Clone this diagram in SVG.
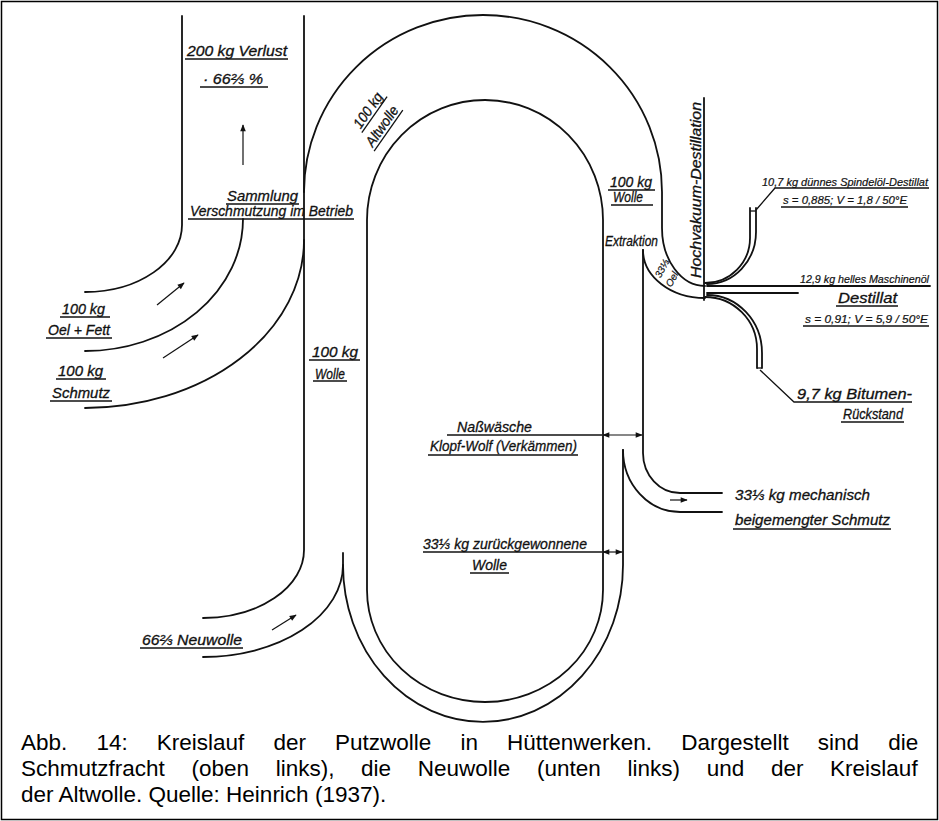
<svg xmlns="http://www.w3.org/2000/svg" width="939" height="821" viewBox="0 0 939 821">
<defs>
<marker id="ah" viewBox="0 0 10 10" refX="9" refY="5" markerWidth="9" markerHeight="7" orient="auto-start-reverse" markerUnits="userSpaceOnUse">
<path d="M0,1 L10,5 L0,9 z" fill="#111"/>
</marker>
</defs>
<style>
.l{fill:none;stroke:#111;stroke-width:1.8;stroke-linecap:round}
.u{fill:none;stroke:#111;stroke-width:1.3}
.a{fill:none;stroke:#111;stroke-width:1.2;marker-end:url(#ah)}
.d{fill:none;stroke:#111;stroke-width:1.2;marker-start:url(#ah);marker-end:url(#ah)}
.h{font-family:"Liberation Sans","DejaVu Sans",sans-serif;font-style:italic;font-size:14.5px;fill:#111;stroke:#111;stroke-width:0.3}
.s{font-size:10px;stroke-width:0.2}
.r{font-size:11px;stroke-width:0.2}
.cap{font-family:"Liberation Sans",Arial,sans-serif;font-size:22.5px;fill:#000}
</style>
<rect x="1.5" y="1.5" width="936" height="818" fill="#fff" stroke="#000" stroke-width="1.5"/>

<g id="connectors">
<path class="l" d="M182 16 L182 225 A97 67 0 0 1 85 292"/>
<path class="l" d="M243 219 A158 132 0 0 1 85 351"/>
<path class="l" d="M304 240 A219 168 0 0 1 85 408"/>
<path class="l" d="M304 16 L304 550 A101 68 0 0 1 203 618"/>
<path class="l" d="M343 553 L343 565 A140 92 0 0 1 203 657"/>
<path class="l" d="M343 565 A140 157 0 0 0 623 565 L623 450"/>
<path class="l" d="M304 192 A179 177 0 0 1 662 192 L662 228 A43 58 0 0 0 705 286"/>
<path class="l" d="M643 250 A62 48 0 0 0 705 298"/>
<path class="l" d="M643 250 L643 453 A37 40 0 0 0 680 493 L722 493"/>
<path class="l" d="M623 450 A57 62 0 0 0 680 512 L722 512"/>
<path class="l" d="M367 220 A118 120 0 0 1 603 220 L603 590 A118 112 0 0 1 367 590 Z"/>
<path class="l" d="M704 98 L704 300"/>
<path class="l" d="M705 283 A45 45 0 0 0 750 238 L750 208"/>
<path class="l" d="M707 284 A49 52 0 0 0 756 232 L756 208"/>
<path class="u" d="M750 211 L756 211"/>
<path class="l" d="M707 286 L930 286"/>
<path class="l" d="M707 293 L798 293"/>
<path class="l" d="M705 297 A52 52 0 0 1 757 349 L757 368"/>
<path class="l" d="M707 295 A55 58 0 0 1 762 353 L762 368"/>
<path class="u" d="M757 368 L762 368"/>
<path class="u" d="M756 210 L775 188 L929 188"/>
<path class="u" d="M760 370 L794 402 L912 402"/>
<path class="u" d="M447 435 L602 435"/>
<path class="d" d="M603 435 L642 435"/>
<path class="u" d="M423 552 L602 552"/>
<path class="d" d="M603 552 L622 552"/>
<path class="a" d="M243 165 L243 125"/>
<path class="a" d="M157 305 L184 283"/>
<path class="a" d="M163 358 L198 335"/>
<path class="a" d="M272 630 L296 615"/>
<path class="a" d="M670 500 L687 500"/>
</g>

<g id="verlust">
<text class="h" x="187" y="56" textLength="100" lengthAdjust="spacingAndGlyphs">200 kg Verlust</text>
<path class="u" d="M185 59 L288 59"/>
<text class="h" x="203" y="84" textLength="60" lengthAdjust="spacingAndGlyphs">· 66⅔ %</text>
<path class="u" d="M200 87 L268 87"/>
</g>

<g id="sammlung">
<text class="h" x="227" y="201" textLength="71" lengthAdjust="spacingAndGlyphs">Sammlung</text>
<path class="u" d="M226 204 L299 204"/>
<text class="h" x="190" y="216" textLength="163" lengthAdjust="spacingAndGlyphs">Verschmutzung im Betrieb</text>
<path class="u" d="M188 219 L354 219"/>
</g>

<g id="oel-fett">
<text class="h" x="62" y="314" textLength="43" lengthAdjust="spacingAndGlyphs">100 kg</text>
<path class="u" d="M60 317 L110 317"/>
<text class="h" x="48" y="335" textLength="62" lengthAdjust="spacingAndGlyphs">Oel + Fett</text>
<path class="u" d="M46 338 L112 338"/>
</g>

<g id="schmutz">
<text class="h" x="58" y="376" textLength="45" lengthAdjust="spacingAndGlyphs">100 kg</text>
<path class="u" d="M56 379 L106 379"/>
<text class="h" x="52" y="398" textLength="58" lengthAdjust="spacingAndGlyphs">Schmutz</text>
<path class="u" d="M50 401 L112 401"/>
</g>

<g id="altwolle">
<g transform="translate(372,113) rotate(-55)">
<text class="h" text-anchor="middle" textLength="40" lengthAdjust="spacingAndGlyphs">100 kg</text>
<path class="u" d="M-22 3 L22 3"/>
</g>
<g transform="translate(386,129) rotate(-55)">
<text class="h" text-anchor="middle" textLength="46" lengthAdjust="spacingAndGlyphs">Altwolle</text>
<path class="u" d="M-25 3 L25 3"/>
</g>
</g>

<g id="wolle-links">
<text class="h" x="312" y="357" textLength="46" lengthAdjust="spacingAndGlyphs">100 kg</text>
<path class="u" d="M309 360 L360 360"/>
<text class="h" x="315" y="379" textLength="30" lengthAdjust="spacingAndGlyphs">Wolle</text>
<path class="u" d="M313 381 L347 381"/>
</g>

<g id="wolle-rechts">
<text class="h" x="610" y="187" textLength="42" lengthAdjust="spacingAndGlyphs">100 kg</text>
<path class="u" d="M608 190 L655 190"/>
<text class="h" x="613" y="202" textLength="30" lengthAdjust="spacingAndGlyphs">Wolle</text>
<path class="u" d="M611 205 L653 205"/>
</g>

<g id="extraktion">
<text class="h" x="605" y="246" textLength="53" lengthAdjust="spacingAndGlyphs">Extraktion</text>
<text class="h s" transform="translate(665,270) rotate(-62)" text-anchor="middle">33⅓</text>
<text class="h s" transform="translate(675,281) rotate(-62)" text-anchor="middle">Oel</text>
</g>

<g id="destillation">
<text class="h" transform="translate(701,190) rotate(-90)" text-anchor="middle" textLength="176" lengthAdjust="spacingAndGlyphs">Hochvakuum-Destillation</text>
</g>

<g id="spindeloel">
<text class="h r" x="762" y="186" textLength="166" lengthAdjust="spacingAndGlyphs">10,7 kg dünnes Spindelöl-Destillat</text>
<text class="h r" x="783" y="204" textLength="124" lengthAdjust="spacingAndGlyphs">s = 0,885; V = 1,8 / 50°E</text>
<path class="u" d="M781 207 L908 207"/>
</g>

<g id="maschinenoel">
<text class="h r" x="800" y="283" textLength="129" lengthAdjust="spacingAndGlyphs" style="font-size:10.6px">12,9 kg helles Maschinenöl</text>
<text class="h" x="838" y="303" textLength="59" lengthAdjust="spacingAndGlyphs">Destillat</text>
<path class="u" d="M836 306 L898 306"/>
<text class="h r" x="805" y="323" textLength="123" lengthAdjust="spacingAndGlyphs">s = 0,91;  V = 5,9 / 50°E</text>
<path class="u" d="M803 326 L929 326"/>
</g>

<g id="bitumen">
<text class="h" x="797" y="399" textLength="115" lengthAdjust="spacingAndGlyphs">9,7 kg  Bitumen-</text>
<text class="h" x="843" y="419" textLength="60" lengthAdjust="spacingAndGlyphs">Rückstand</text>
<path class="u" d="M841 422 L904 422"/>
</g>

<g id="nasswaesche">
<text class="h" x="457" y="432" textLength="75" lengthAdjust="spacingAndGlyphs">Naßwäsche</text>
<text class="h" x="430" y="451" textLength="147" lengthAdjust="spacingAndGlyphs">Klopf-Wolf (Verkämmen)</text>
<path class="u" d="M428 455 L578 455"/>
</g>

<g id="mech-schmutz">
<text class="h" x="735" y="500" textLength="135" lengthAdjust="spacingAndGlyphs">33⅓ kg mechanisch</text>
<text class="h" x="735" y="525" textLength="155" lengthAdjust="spacingAndGlyphs">beigemengter  Schmutz</text>
<path class="u" d="M733 529 L891 529"/>
</g>

<g id="zurueck">
<text class="h" x="423" y="549" textLength="164" lengthAdjust="spacingAndGlyphs">33⅓ kg zurückgewonnene</text>
<text class="h" x="472" y="570" textLength="35" lengthAdjust="spacingAndGlyphs">Wolle</text>
<path class="u" d="M470 573 L509 573"/>
</g>

<g id="neuwolle">
<text class="h" x="142" y="645" textLength="100" lengthAdjust="spacingAndGlyphs">66⅔  Neuwolle</text>
<path class="u" d="M140 648 L243 648"/>
</g>

<g id="caption">
<text class="cap" y="750"><tspan x="21">Abb.</tspan><tspan x="96.4">14:</tspan><tspan x="156.8">Kreislauf</tspan><tspan x="273.4">der</tspan><tspan x="335">Putzwolle</tspan><tspan x="460.4">in</tspan><tspan x="507">Hüttenwerken.</tspan><tspan x="681.2">Dargestellt</tspan><tspan x="817.8">sind</tspan><tspan x="888.2">die</tspan></text>
<text class="cap" y="776"><tspan x="21">Schmutzfracht</tspan><tspan x="191.5">(oben</tspan><tspan x="275.7">links),</tspan><tspan x="361.1">die</tspan><tspan x="417.8">Neuwolle</tspan><tspan x="537">(unten</tspan><tspan x="627.5">links)</tspan><tspan x="706.7">und</tspan><tspan x="770.9">der</tspan><tspan x="830.1">Kreislauf</tspan></text>
<text class="cap" x="21" y="802">der Altwolle. Quelle: Heinrich (1937).</text>
</g>
</svg>
